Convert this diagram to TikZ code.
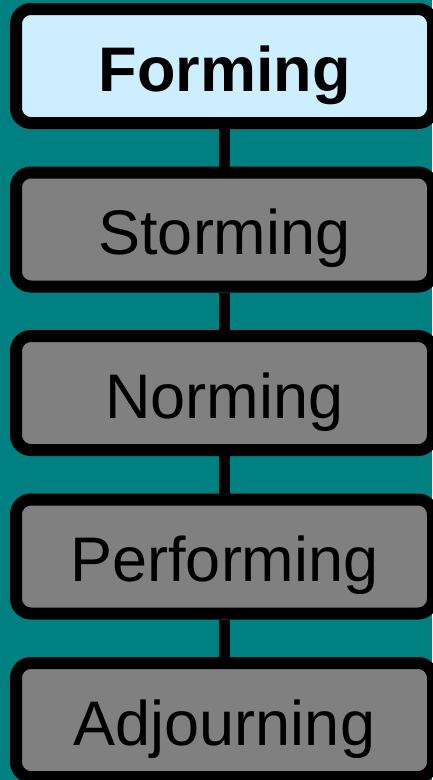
\documentclass[tikz,border=0pt]{standalone}
\usepackage{fontspec}
\setmainfont{Liberation Sans}
\definecolor{bgteal}{HTML}{008080}
\definecolor{lightblue}{HTML}{CCEEFF}
\definecolor{boxgray}{HTML}{808080}
\tikzset{
  stagebox/.style={draw=black, line width=12pt, rounded corners=15pt,
    minimum width=417pt, minimum height=114pt, inner sep=0pt,
    text height=50pt, text depth=0pt, font=\fontsize{63}{70}\selectfont, text=black},
  activebox/.style={stagebox, fill=lightblue, font=\fontsize{63}{70}\selectfont\bfseries},
  idlebox/.style={stagebox, fill=boxgray},
  link/.style={draw=black, line width=11pt}
}
\begin{document}
\begin{tikzpicture}[x=1pt,y=1pt]
\useasboundingbox (0,0) rectangle (432,-780);
\fill[bgteal] (0,0) rectangle (432,-780);
\node[activebox] (forming) at (224.5,-66) {Forming};
\node[idlebox] (storming) at (224.5,-229.5) {Storming};
\node[idlebox] (norming) at (224.5,-393) {Norming};
\node[idlebox] (performing) at (224.5,-556.5) {Performing};
\node[idlebox] (adjourning) at (224.5,-720) {Adjourning};
\draw[link] ([xshift=-0.5pt]forming.south) -- ([xshift=-0.5pt]storming.north);
\draw[link] ([xshift=-0.5pt]storming.south) -- ([xshift=-0.5pt]norming.north);
\draw[link] ([xshift=-0.5pt]norming.south) -- ([xshift=-0.5pt]performing.north);
\draw[link] ([xshift=-0.5pt]performing.south) -- ([xshift=-0.5pt]adjourning.north);
\end{tikzpicture}
\end{document}
